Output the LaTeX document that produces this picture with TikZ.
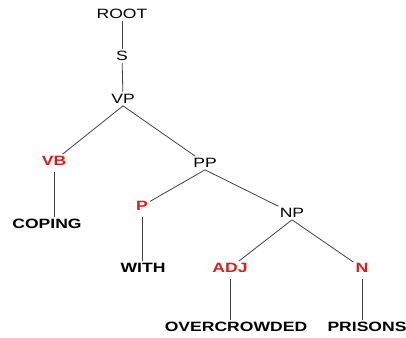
\documentclass[tikz,border=0pt]{standalone}
\usepackage{fontspec}
\newfontfamily\treefont[FakeStretch=1.3]{Liberation Sans}
\usetikzlibrary{positioning}
\definecolor{tagred}{RGB}{214,30,30}
\tikzset{
	phrase/.style={font=\treefont\fontsize{13.5}{15}\selectfont, inner sep=2pt},
	tag/.style={font=\treefont\bfseries\fontsize{13.5}{15}\selectfont, text=tagred, inner sep=2pt},
	word/.style={font=\treefont\bfseries\fontsize{13.5}{15}\selectfont, inner sep=2pt},
	tline/.style={draw=black!75, line width=0.8pt},
	leaf/.style={shorten <=4pt}
}
\begin{document}
\begin{tikzpicture}[x=1pt,y=-1pt]
		\useasboundingbox (0,0) rectangle (406,337);
		\node[phrase] (root) at (122,14) {ROOT};
		\node[phrase] (s)    at (122,56) {S};
		\node[phrase] (vp)   at (123,99) {VP};
		\node[tag]    (vb)   at (54,161) {VB};
		\node[phrase] (pp)   at (205,163) {PP};
		\node[word]   (coping) at (47,224) {COPING};
		\node[tag]    (p)    at (142,206) {P};
		\node[phrase] (np)   at (292,213) {NP};
		\node[word]   (with) at (143,268) {WITH};
		\node[tag]    (adj)  at (230,268) {ADJ};
		\node[tag]    (n)    at (362,268) {N};
		\node[word]   (over) at (236,327) {OVERCROWDED};
		\node[word]   (prisons) at (367,327) {PRISONS};
		
		\path[tline]
		(root) edge (s)
		(s) edge (vp)
		(vp.south) edge (vb)
		(vp.south) edge (pp)
		(vb) edge[leaf] (vb |- coping.north)
		(pp.south) edge (p)
		(pp.south) edge (np)
		(p) edge[leaf] (p |- with.north)
		(np.south) edge (adj)
		(np.south) edge (n)
		(adj) edge[leaf] (adj |- over.north)
		(n) edge[leaf] (n |- prisons.north);
		
	\end{tikzpicture}
\end{document}
